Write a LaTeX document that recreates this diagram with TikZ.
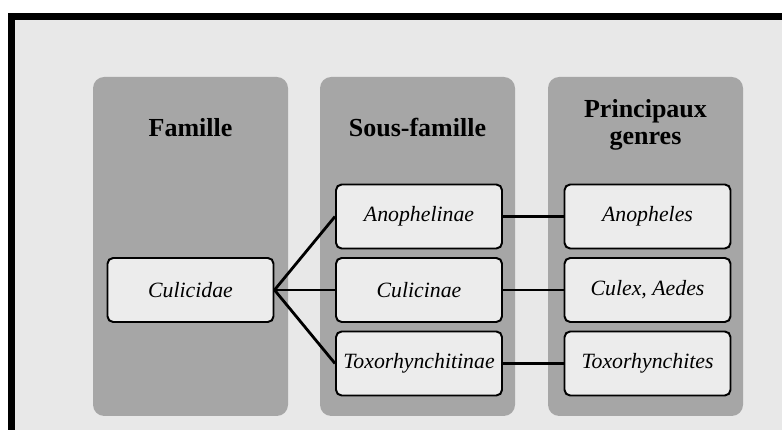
\documentclass[tikz,border=0pt]{standalone}
\usepackage{fontspec}
\setmainfont{Liberation Serif}
\usepackage{tikz}
\usetikzlibrary{positioning}
\definecolor{fond1}{RGB}{232,232,232}
\definecolor{colonne1}{RGB}{166,166,166}
\definecolor{boite1}{RGB}{236,236,236}

\begin{document}
\begin{tikzpicture}[
    colonne/.style={draw=none, fill=colonne1, rounded corners=8pt, minimum width=4.875cm, minimum height=8.475cm},
    entete/.style={font=\fontsize{18.5}{19}\selectfont\bfseries, align=center},
    taxon/.style={draw=black, fill=boite1, line width=1.4pt, rounded corners=4pt, minimum width=4.15cm, minimum height=1.6cm, font=\fontsize{15.5}{17}\selectfont\itshape},
    lien/.style={line width=2pt, draw=black}
]
        \useasboundingbox (0,0) rectangle (19.55,10.75);
        % cadre et fond
        \fill[black] (0.2,0) rectangle (19.55,10.425);
        \fill[fond1] (0.375,0) rectangle (19.55,10.25);

        \node[colonne, name=col1] at(4.7625,4.5875) {};
        \node[colonne, name=col2] at(10.4375,4.5875) {};
        \node[colonne, name=col3] at(16.1375,4.5875) {};

        \node[entete, name=famille] at(4.7625,7.55) {Famille};
        \node[entete, name=sousfamille] at(10.4375,7.55) {Sous-famille};
        \node[entete, name=genres] at(16.1375,7.625) {Principaux\\genres};

        \node[taxon, name=culicidae] at(4.7625,3.5) {Culicidae};

        \node[taxon, name=anophelinae] at(10.475,5.3375) {Anophelinae};
        \node[taxon, name=culicinae] at(10.475,3.5) {Culicinae};
        \node[taxon, name=toxorhynchitinae] at(10.475,1.6625) {Toxorhynchitinae};

        \node[taxon, name=anopheles] at(16.1875,5.3375) {Anopheles};
        \node[taxon, name=culex] at(16.1875,3.5) {Culex, Aedes};
        \node[taxon, name=toxorhynchites] at(16.1875,1.6625) {Toxorhynchites};

        \draw[lien] (culicidae.east) -- (anophelinae.west);
        \draw[lien] (culicidae.east) -- (culicinae.west);
        \draw[lien] (culicidae.east) -- (toxorhynchitinae.west);

        \draw[lien] (anophelinae) -- (anopheles);
        \draw[lien] (culicinae) -- (culex);
        \draw[lien] (toxorhynchitinae) -- (toxorhynchites);

\end{tikzpicture}
\end{document}
